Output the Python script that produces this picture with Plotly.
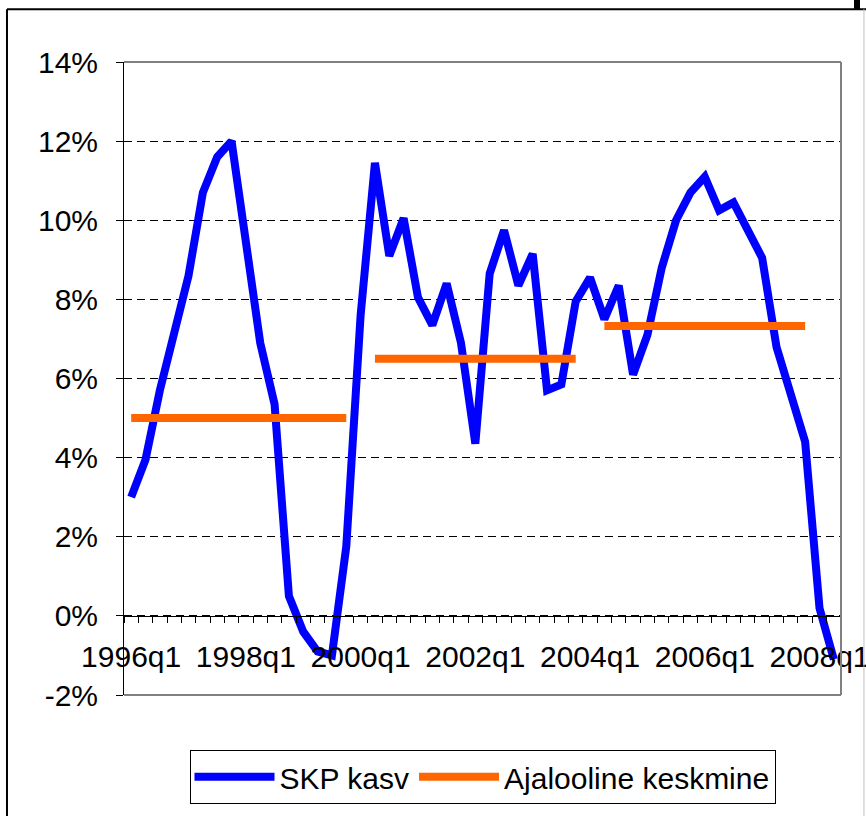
import plotly.graph_objects as go

quarters = [f"{y}q{q}" for y in range(1996, 2009) for q in range(1, 5)][:50]

skp_kasv = [3.0, 3.95, 5.7, 7.25, 8.6, 10.7, 11.6, 12.0, 9.5, 6.9,
            5.35, 0.5, -0.4, -0.9, -1.0, 1.75, 7.6, 11.45, 9.1, 10.05,
            8.05, 7.35, 8.4, 6.9, 4.35, 8.65, 9.75, 8.35, 9.15, 5.7,
            5.85, 7.95, 8.55, 7.5, 8.35, 6.1, 7.1, 8.8, 10.0, 10.7,
            11.1, 10.25, 10.45, 9.8, 9.05, 6.8, 5.6, 4.4, 0.2, -1.1]

mean_1 = [5.0] * 16 + [None] * 34
mean_2 = [None] * 17 + [6.5] * 15 + [None] * 18
mean_3 = [None] * 33 + [7.33] * 15 + [None] * 2

x_tick_labels = ["1996q1", "1998q1", "2000q1", "2002q1", "2004q1", "2006q1", "2008q1"]
y_tick_values = [-2, 0, 2, 4, 6, 8, 10, 12, 14]
y_tick_labels = ["-2%", "0%", "2%", "4%", "6%", "8%", "10%", "12%", "14%"]

xs = list(range(len(quarters)))
x_tick_pos = [quarters.index(t) for t in x_tick_labels]

fig = go.Figure()
fig.add_trace(go.Scatter(x=xs, y=skp_kasv, mode="lines", name="SKP kasv",
                         line=dict(color="#0000FF", width=8), text=quarters))
for k, m in enumerate([mean_1, mean_2, mean_3]):
    fig.add_trace(go.Scatter(x=xs, y=m, mode="lines", name="Ajalooline keskmine",
                             line=dict(color="#FF6600", width=8), text=quarters,
                             connectgaps=False, showlegend=(k == 0),
                             legendgroup="mean"))

fig.update_layout(
    width=866, height=816,
    margin=dict(l=124, r=25, t=62, b=119),
    plot_bgcolor="white", paper_bgcolor="white",
    font=dict(family="Liberation Sans, Arial, sans-serif", size=30, color="black"),
    showlegend=True,
    legend=dict(orientation="h", x=0.5, xanchor="center", y=-0.0866, yanchor="top",
                bordercolor="black", borderwidth=1, bgcolor="white",
                itemwidth=80, font=dict(size=30)),
    xaxis=dict(range=[-0.5, 49.5], anchor="free", position=0.125, automargin=False,
               showline=True, linecolor="black", linewidth=1,
               tickmode="array", tickvals=x_tick_pos, ticktext=x_tick_labels,
               ticks="", showgrid=False, zeroline=False,
               ticklabelstandoff=14, ticklabeloverflow="allow",
               minor=dict(tick0=-0.5, dtick=1, ticks="outside", ticklen=6,
                          tickcolor="black", tickwidth=1, showgrid=False)),
    yaxis=dict(range=[-2, 14], tickmode="array", tickvals=y_tick_values,
               ticktext=y_tick_labels, ticks="outside", ticklen=7, automargin=False,
               tickcolor="black", showline=True, linecolor="black", linewidth=1,
               showgrid=True, gridcolor="black", gridwidth=1, griddash="8px,5px",
               zeroline=False, ticklabelstandoff=12),
)

# plot-area border (top, right, bottom) and chart-area frame
shapes = [
    dict(type="line", xref="paper", yref="paper", x0=0, x1=1, y0=1, y1=1,
         line=dict(color="#808080", width=2), layer="above"),
    dict(type="line", xref="paper", yref="paper", x0=1, x1=1, y0=0, y1=1,
         line=dict(color="#808080", width=2), layer="above"),
    dict(type="line", xref="paper", yref="paper", x0=0, x1=1, y0=0, y1=0,
         line=dict(color="#808080", width=2), layer="above"),
    dict(type="line", xref="paper", yref="paper", x0=-0.1632, x1=1.06, y0=1.0835, y1=1.0835,
         line=dict(color="black", width=2), layer="above"),
    dict(type="line", xref="paper", yref="paper", x0=-0.1632, x1=-0.1632, y0=-0.2, y1=1.0835,
         line=dict(color="black", width=2), layer="above"),
    dict(type="line", xref="paper", yref="paper", x0=1.032, x1=1.032, y0=-0.2, y1=1.0835,
         line=dict(color="#C0C0C0", width=1), layer="above"),
    dict(type="rect", xref="paper", yref="paper", x0=1.0181, x1=1.0265, y0=1.0835, y1=1.1,
         line=dict(width=0), fillcolor="black", layer="above"),
]
fig.update_layout(shapes=shapes)

fig.write_html("out.html", config={"displayModeBar": False},
               post_script="document.body.style.margin='0';document.body.style.padding='0';")
